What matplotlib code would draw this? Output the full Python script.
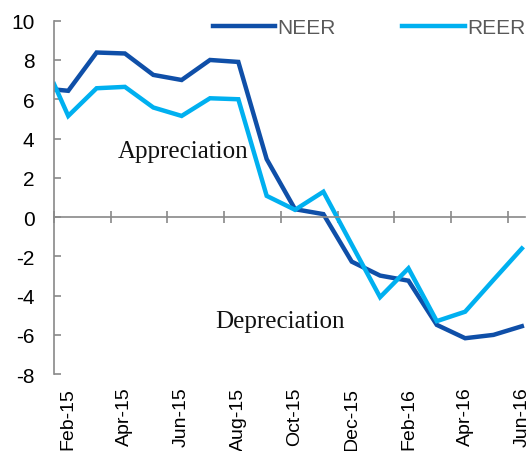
import matplotlib
matplotlib.use('Agg')
import matplotlib.pyplot as plt

# month index: 0 = Feb-15 ... 16 = Jun-16 (first point sits half a month earlier)
months = [-0.5, 0, 1, 2, 3, 4, 5, 6, 7, 8, 9, 10, 11, 12, 13, 14, 15, 16]
neer = [6.5, 6.43, 8.38, 8.33, 7.24, 6.98, 8.0, 7.9, 2.95, 0.4, 0.15,
        -2.27, -2.98, -3.24, -5.49, -6.17, -6.0, -5.56]
reer = [6.77, 5.15, 6.56, 6.63, 5.58, 5.15, 6.05, 6.0, 1.08, 0.37, 1.29,
        -1.4, -4.08, -2.61, -5.3, -4.82, -3.2, -1.6]
label_pos = [0, 2, 4, 6, 8, 10, 12, 14, 16]
labels = ['Feb-15', 'Apr-15', 'Jun-15', 'Aug-15', 'Oct-15', 'Dec-15',
          'Feb-16', 'Apr-16', 'Jun-16']

plt.rcParams['font.family'] = ['Liberation Sans', 'DejaVu Sans']
plt.rcParams['axes.unicode_minus'] = False

fig = plt.figure(figsize=(5.3, 4.52), dpi=100)
ax = fig.add_axes([0.102, 0.17, 0.889, 0.782])

ax.plot(months, neer, color='#0F4FA8', lw=3.2, label='NEER', solid_joinstyle='miter')
ax.plot(months, reer, color='#00B0F0', lw=3.2, label='REER', solid_joinstyle='miter')

ax.set_xlim(-0.5, 16.12)
ax.set_ylim(-8, 10)
ax.set_yticks(range(-8, 11, 2))

gray = '#898989'
for s in ['top', 'right']:
    ax.spines[s].set_visible(False)
ax.spines['left'].set_color(gray)
ax.spines['left'].set_linewidth(1.2)
ax.spines['bottom'].set_position(('data', 0))
ax.spines['bottom'].set_color(gray)
ax.spines['bottom'].set_linewidth(1.2)

ax.set_xticks([m + 1.5 for m in label_pos[:-1]] + [-0.5])
ax.tick_params(axis='x', direction='inout', length=9, width=1.2, color=gray,
               labelbottom=False)
ax.tick_params(axis='y', direction='in', length=5, width=1.2, color=gray,
               labelsize=15, pad=14)

sec = ax.secondary_xaxis(0)
sec.set_xticks(label_pos)
sec.set_xticklabels(labels, rotation=90, fontsize=14)
sec.tick_params(length=0, pad=9)
sec.spines['bottom'].set_visible(False)

ax.text(1.74, 3.05, 'Appreciation', family='Liberation Serif', fontsize=18,
        va='baseline', ha='left', color='#111111')
ax.text(5.19, -5.6, 'Depreciation', family='Liberation Serif', fontsize=18,
        va='baseline', ha='left', color='#111111')

leg = ax.legend(loc='center', bbox_to_anchor=(0.668, 0.98), ncol=2, frameon=False,
                fontsize=15, handlelength=3, handletextpad=0.1, columnspacing=3.2,
                borderaxespad=0)
for t in leg.get_texts():
    t.set_color('#595959')

fig.savefig('out.png', dpi=100)
